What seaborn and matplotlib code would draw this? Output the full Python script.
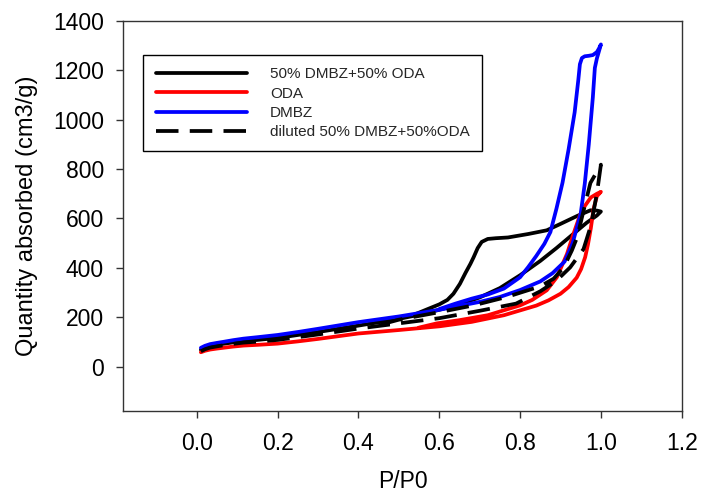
import numpy as np
import pandas as pd
import matplotlib
matplotlib.use("Agg")
import matplotlib.pyplot as plt
import seaborn as sns

# ---------------- data ----------------
labels = ["50% DMBZ+50% ODA", "ODA", "DMBZ", "diluted 50% DMBZ+50%ODA"]

# 50% DMBZ + 50% ODA (black solid)
black_ads_x = [0.01, 0.02, 0.033, 0.05, 0.065, 0.09, 0.115, 0.15, 0.2, 0.25, 0.3, 0.4, 0.5, 0.55, 0.6, 0.65, 0.7, 0.75, 0.8, 0.85, 0.89, 0.93, 0.965, 0.99, 1.0]
black_ads_y = [68, 76, 83, 88, 92, 98, 103, 108, 116, 128, 140, 166, 193, 210, 230, 252, 280, 318, 370, 428, 480, 535, 583, 612, 628]
black_des_x = [0.99, 0.974, 0.941, 0.9, 0.866, 0.82, 0.77, 0.74, 0.72, 0.705, 0.695, 0.685, 0.677, 0.665, 0.651, 0.635, 0.62, 0.6, 0.57, 0.53]
black_des_y = [632, 633, 610, 578, 552, 537, 523, 520, 517, 505, 480, 443, 416, 380, 335, 295, 270, 252, 232, 205]

# ODA (red)
red_ads_x = [0.01, 0.02, 0.033, 0.05, 0.065, 0.09, 0.115, 0.15, 0.2, 0.25, 0.3, 0.4, 0.5, 0.6, 0.68, 0.76, 0.84, 0.87, 0.9, 0.92, 0.94, 0.951, 0.961, 0.968, 0.975, 0.982, 0.99, 1.0]
red_ads_y = [58, 64, 69, 73, 76, 81, 85, 88, 93, 102, 112, 134, 148, 163, 181, 208, 247, 268, 295, 322, 360, 395, 443, 495, 560, 640, 690, 708]
red_des_x = [0.99, 0.975, 0.96, 0.949, 0.932, 0.916, 0.891, 0.866, 0.83, 0.8, 0.72, 0.65, 0.594, 0.55]
red_des_y = [700, 685, 650, 617, 537, 456, 362, 309, 270, 248, 208, 188, 175, 158]

# DMBZ (blue)
blue_ads_x = [0.01, 0.02, 0.033, 0.05, 0.065, 0.09, 0.115, 0.15, 0.2, 0.25, 0.3, 0.4, 0.5, 0.6, 0.7, 0.75, 0.8, 0.85, 0.88, 0.91, 0.93, 0.95, 0.96, 0.97, 0.98, 0.985, 0.99, 1.0]
blue_ads_y = [76, 84, 91, 96, 100, 107, 113, 119, 128, 140, 153, 180, 203, 230, 262, 282, 310, 345, 378, 425, 500, 620, 740, 900, 1090, 1210, 1248, 1305]
blue_des_x = [0.995, 0.99, 0.98, 0.97, 0.96, 0.953, 0.948, 0.944, 0.935, 0.92, 0.905, 0.89, 0.875, 0.86, 0.84, 0.82, 0.8, 0.76, 0.72, 0.68, 0.64, 0.6]
blue_des_y = [1288, 1274, 1262, 1259, 1257, 1250, 1225, 1160, 1030, 880, 745, 640, 545, 497, 448, 403, 362, 316, 292, 275, 255, 233]

# diluted 50% DMBZ + 50% ODA (black dashed)
dil_ads_x = [0.01, 0.02, 0.033, 0.05, 0.065, 0.09, 0.115, 0.15, 0.2, 0.25, 0.3, 0.4, 0.5, 0.6, 0.7, 0.79, 0.85, 0.89, 0.924, 0.957, 0.975, 0.99, 1.0]
dil_ads_y = [62, 70, 77, 82, 86, 92, 97, 101, 108, 119, 130, 154, 175, 196, 226, 255, 305, 348, 402, 476, 570, 700, 818]
dil_des_x = [0.985, 0.974, 0.965, 0.953, 0.941, 0.928, 0.908, 0.883, 0.85, 0.767, 0.685, 0.602, 0.5, 0.45]
dil_des_y = [775, 744, 684, 604, 523, 470, 402, 356, 325, 282, 248, 221, 190, 168]

x_ticks = [0.0, 0.2, 0.4, 0.6, 0.8, 1.0, 1.2]
x_tick_labels = ["0.0", "0.2", "0.4", "0.6", "0.8", "1.0", "1.2"]
y_ticks = [0, 200, 400, 600, 800, 1000, 1200, 1400]

# ---------------- style ----------------
sns.set_theme(style="white")
plt.rcParams["font.family"] = ["Liberation Sans", "DejaVu Sans"]

fig = plt.figure(figsize=(7.01, 4.95), dpi=100)
ax = fig.add_axes([0.1759, 0.1697, 0.7966, 0.7879])

series = [
    (black_ads_x + black_des_x, black_ads_y + black_des_y, "black", "-"),
    (red_ads_x + red_des_x, red_ads_y + red_des_y, "#ff0000", "-"),
    (blue_ads_x + blue_des_x, blue_ads_y + blue_des_y, "#0000ff", "-"),
    (dil_ads_x + dil_des_x, dil_ads_y + dil_des_y, "black", (0, (6, 3))),
]

handles = []
for (xs, ys, col, ls), lab in zip(series, labels):
    df = pd.DataFrame({"x": xs, "y": ys})
    sns.lineplot(data=df, x="x", y="y", sort=False, estimator=None, ax=ax,
                 color=col, linewidth=2.7, linestyle=ls, label=lab, legend=False)
    line = ax.lines[-1]
    line.set_solid_joinstyle("round")
    line.set_dash_joinstyle("round")
    handles.append(line)

ax.set_xlim(-0.182, 1.2)
ax.set_ylim(-180, 1400)
ax.set_xticks(x_ticks)
ax.set_xticklabels(x_tick_labels)
ax.set_yticks(y_ticks)

for s in ax.spines.values():
    s.set_visible(True)
    s.set_color("#333333")
    s.set_linewidth(1.0)

ax.tick_params(axis="both", which="both", direction="out", length=5, width=1,
               color="#333333", labelsize=16.5, labelcolor="black",
               bottom=True, left=True, top=False, right=False)
ax.tick_params(axis="x", pad=10)
ax.tick_params(axis="y", pad=9)

ax.set_xlabel("P/P0", fontsize=16.5, color="black", labelpad=11)
ax.set_ylabel("Quantity absorbed (cm3/g)", fontsize=17, color="black", labelpad=11)

leg = ax.legend(handles, labels, loc="upper left", bbox_to_anchor=(0.0358, 0.9128),
                borderaxespad=0, frameon=True, fancybox=False, edgecolor="black",
                framealpha=1, fontsize=11, handlelength=6.0, handletextpad=1.5,
                labelspacing=0.35, borderpad=0.8)
leg.get_frame().set_linewidth(1.0)

fig.savefig("out.png", dpi=100)
